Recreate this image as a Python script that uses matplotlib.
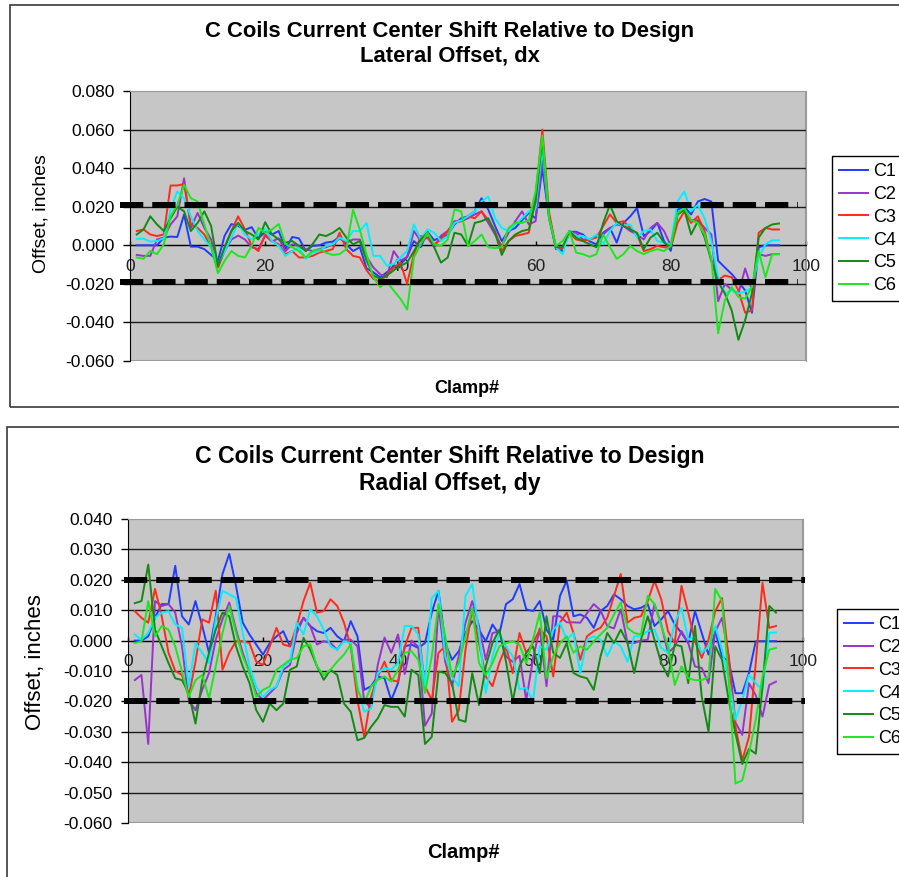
import matplotlib.pyplot as plt
from matplotlib.patches import Rectangle
from matplotlib.lines import Line2D
import numpy as np

plt.rcParams['font.family'] = ['Liberation Sans', 'DejaVu Sans']

clamps = np.arange(1, 97)

# offsets, in thousandths of an inch
dx_c1 = [0, 0, 0, 0, 4, 4.5, 4.3, 16, -0.7, -0.7,
         -2, -5, -8, 5, 11, 10, 8, 9.4, 3.6, 7,
         5.6, 7.4, -2, 4.3, 3.6, -2.9, -0.3, 0, 1.4, 1.9,
         4.3, 0.5, -3, -1, -12, -14, -16.6, -14, -11, -10,
         -6, 2.2, -1, 7, 2.6, 4.3, 5.3, 10.8, 14, 15,
         17.6, 24.4, 18.5, 10, 2.2, 7.4, 9, 13, 16.8, 14,
         40, 14, -1, -3, 7, 7, 5.6, 2, 0.5, 6.5,
         9, 1.4, 11.6, 15, 19.3, 4.8, 7.4, 11.6, 2.2, -2.9,
         18.5, 20, 16, 22.7, 24, 22.7, -8, -11.5, -14.9, -19,
         -23.4, -35, -1, 0, 0, 0]
dx_c2 = [-5, -5.5, -5.5, 3, 4, 10.8, 15, 34.7, 9, 16.8,
         9, 3, -11.5, -3, 3, 5, 3, -1, -2, 5,
         2, 3.6, -3, 0.5, -0.3, -2, -3, -2, -1, 0.5,
         3.6, 1.4, 3, 3, -6, -11.5, -15, -16.6, -3, -8,
         -6, 7.4, 2.2, 4, -1, 5, 7.4, 12.5, 12.5, 14,
         16, 17.6, 11.6, 5.6, -0.3, 6.5, 12.5, 17.6, 10.8, 12.5,
         45, 15, -2, -2, 6.5, 6.5, 3, 3, 5, 5.6,
         9, 10.8, 10, 7.4, 5.6, 3, 9, 11.6, 7.4, -0.3,
         16, 18.5, 13, 13, 9, 5.6, -29, -20, -23, -25,
         -12, -23, -4.6, -5.5, -4.6, -4.6]
dx_c3 = [7.4, 8.2, 5.6, 4.8, 5.6, 31, 31, 31.8, 10.8, 9,
         5.6, -1, -11.5, -1, 7.4, 15, 8.2, -0.3, -3, 5.6,
         2.2, 0.5, -4.6, -3, -6.3, -6.3, -5.5, -3.8, -3, -2,
         6.5, -2, -5.5, -6.3, -13, -17.4, -19, -15, -11.5, -9,
         -20, -4.6, 4.8, 4, 0.5, 3, 7.4, 11.6, 12.5, 15,
         14, 17.6, 13, 7.4, -3, 2.2, 4.8, 5.6, 6.5, 26,
         60, 17, -1, -2, 6.5, 3, 2.2, 3, 4, 10,
         16, 11.6, 12.5, 9, 5.6, -3, -2, -0.3, -1, -1,
         11.6, 17.6, 11.6, 15, 7.4, -8, -18, -15.7, -16.6, -23.4,
         -35, -33.7, 6.5, 9, 8.2, 8.2]
dx_c4 = [3.4, 3.4, 1.9, 2.2, 3.6, 18.5, 27.9, 24.4, 15, 7.4,
         3, -1, -9.7, -3, 4, 11.6, 5.6, 3, 5.6, 8.7,
         2.2, -0.3, -5.5, -3, -1, -7, -3.8, -3, -0.3, 0.5,
         4, 2.2, 7.4, 7.4, 11.6, -5.5, -5.5, -10.6, -9.7, -6.3,
         -3, 10.8, 3, 8.2, 6.5, 2.2, 4.8, 11.6, 13, 15,
         17.6, 22.7, 25.3, 14, 9, 7.4, 10.8, 14, 17.6, 19.3,
         50, 14, -1, -4.6, 7.4, 4.8, 4.8, 3, 5.6, 0.5,
         7.4, 11.6, 10, 10.8, 4, 7.4, 8.2, 2.2, 1.4, 0.5,
         22.7, 27.9, 17.6, 21, 14, 2.2, -16.6, -25, -23.4, -25,
         -24, -21.7, -6.3, 0.5, 2.6, 2.6]
dx_c5 = [5.6, 8.2, 15, 10.8, 7.4, 14, 20, 17.6, 7.4, 11.6,
         17.6, 10, -10.6, -1, 7.4, 11.6, 7.4, 5.6, 3, 12,
         5.6, 3, 1.4, 2.2, -0.3, -3, 0.5, 5.6, 4.8, 6.5,
         9, 4, 0.5, 2.2, -8, -15.7, -17.4, -15.7, -13, -10.6,
         -9, -3, 3, 6.5, -1, -9, -6.3, 6.5, 5.6, -0.3,
         11.6, 12.5, 14, 6.5, -5, 2.2, 5.6, 7.4, 8.2, 22.7,
         55, 14, -1, -1, 7.4, 4, 2.2, 0.5, -1, 11.6,
         21, 12.5, 10, 8.2, 6.5, -2, 4, 6.5, 1.4, -1,
         16, 18.5, 5.6, 12.5, 4, -8, -19, -25, -33.7, -49,
         -38.8, -25, 4, 9, 10.8, 11.3]
dx_c6 = [-6.3, -7, -3, -4.6, 0.5, 15, 21, 31.3, 24.4, 22.7,
         10.8, -1, -14.5, -8, -3, -5.5, -6.3, -0.3, 9, 6.5,
         8.2, 11, 0.5, -1, -3, -6.3, -3, -2, -3.8, -5,
         -4.6, -2, 18.5, 8, -5, -16.6, -21.7, -19, -23.4, -27.7,
         -33.3, -6.3, 0.5, 6.5, 0.5, -0.3, 3, 18.5, 17.6, -0.3,
         2.2, 5.6, -1, -1.5, -1, 9, 11.6, 11.6, 13, 28,
         57, 14, -0.3, 2.2, 7.4, -3.8, -4.6, -6, -4.6, 5.6,
         -1, -7, -4.6, -0.3, -3, -4.6, -3, -2, -3, -0.3,
         16.8, 19.3, 13, 11.6, 5.6, -7, -45.6, -28.5, -21.7, -26.8,
         -27.7, -21.7, -3, -16.6, -4.6, -4.6]

dy_c1 = [0, 0, 1.4, 7.5, 12, 12, 24.6, 8, 5.3, 13,
         4.8, -4, 8, 21.9, 28.5, 18, 5.9, 2, -1.3, -4.6,
         -0.8, 1.4, 3.1, -1.9, 3.6, 7.5, 4.8, 3.1, 2.5, 4.2,
         1.4, -0.2, 6.4, 1.4, -16.2, -15, -11.8, -12.4, -19.6, -14,
         -1.9, -1.3, -2.4, -0.8, 9.2, 16.4, -0.8, -6.3, -3.5, 2.5,
         6.4, 3.6, -0.2, 5.3, 2, 12, 13.6, 18.6, 10.3, 9.7,
         13, 3.6, 0.3, 14.7, 19.7, 8, 8.6, 7.5, 4.2, 9.7,
         11.4, 15.2, 13.6, 11.4, 10.3, 10.8, 12, 4.8, 7, 9.7,
         5.3, 2.5, -0.8, 9.7, 2.5, -4.6, 3.1, -5.2, -6.9, -17.3,
         -17.3, -10.7, -0.2, -0.2, -0.2, -0.2]
dy_c2 = [-13, -11.3, -34, 13, 11.4, 12, 9.2, -1.9, -19.6, -22.9,
         -16.2, -10.7, 0.3, 7, 12.5, 3.6, -4, -10.7, -17.3, -19.6,
         -17.3, -15.1, -9.6, -8, 2.5, 7.5, 4.8, -1.3, -0.2, -0.8,
         -3, 0.3, 0.3, -1.9, -20, -22, -8, 1, -4, 2,
         -11, 0, -2, -28, -24, 11.4, -7, -15, -5, 5.9,
         13, 4.8, -6.3, 2.5, 3, -5.2, -7, -5, -19.6, -6,
         4, -15, 8, 8, 6, 6, 5.9, 9, 12, 10,
         4.8, 4, 10.3, -0.8, -0.8, 0, 0.3, 12, 5.3, -4,
         -2, 3.1, -0.8, -8.5, -9, -14, 3, 7.5, -5, -27,
         -31, -14, -18, -25, -14.6, -13.5]
dy_c3 = [9.7, 7.5, 5.9, 17, 8, -4, -10, -11.3, -18.5, -6.9,
         7, 5.9, 16.4, -9.6, -4, -0.2, -0.2, -0.8, -6.9, -8,
         -1.9, 4.2, -1.3, -1.9, 4.8, 13, 19, 9.2, 9.7, 13.6,
         11.4, 5.9, -1.9, -19.6, -31.7, -18.5, -11.8, -6.9, -13, -13.5,
         -1.9, 4.2, 4.2, -15, -19.6, -4, -1.9, -26.7, -23, -3,
         10.3, -0.8, -11.8, -15, -7.4, -1.9, -10.7, 2.5, -4, -0.8,
         3.6, 1.4, -11.8, 5.9, 9.2, 2.5, -6.3, 1.4, 3.1, 4.2,
         7.5, 14.7, 21.9, 5.9, 7.5, 8, 13, 19.7, 13.6, 3.1,
         -0.8, 18, 9.2, -0.2, -5.7, 0.3, 9.7, 14, -6.3, -28.4,
         -39.4, -31.7, -7.4, 19, 4.2, 4.8]
dy_c4 = [2, 0.3, 2.5, 7.5, 9.2, 9.7, 5.3, 4.2, -15, -0.8,
         -4, -7.4, 7, 16.4, 15.2, 14, 2.5, -8.5, -15.1, -18.5,
         -16.2, -15.1, -8.5, -6.9, 5.9, 2, 10.3, 8, 3.6, -1.9,
         -3, -0.2, -0.8, -15.1, -23.4, -22.3, -10.7, -9, -9.6, -7.4,
         4.8, 4.8, 2, -15, 14, 16.4, -5.2, -11.8, -15, 14.7,
         18.6, 2.5, -17.3, -5.2, 2.5, -1.9, -5.2, -16, -15.5, -20,
         -1.9, -3, 3.6, 5.9, 0.3, 2.5, -10.7, 0.3, 1.4, 0.3,
         -5.2, -0.2, -1.9, -6.9, 1.4, 1.4, 3.1, 3.6, -2.4, -4,
         5.9, 10.8, 0.3, 1.4, -4, -1.9, 4.8, -3, -13, -26,
         -19.6, -11.3, -14, -16.2, 2.5, 2.7]
dy_c5 = [12.3, 13, 25, 3.6, -1.9, -7.4, -12.4, -13, -17.3, -27.3,
         -13, -4, 3.6, 9.2, 8, -1.9, -8.5, -14, -22.9, -26.7,
         -20.7, -22.9, -20.7, -9.6, -8.5, 0.9, -3, -8.5, -12.9, -9.6,
         -11.3, -20.7, -23.4, -32.8, -32, -28.4, -25.6, -21.2, -21.8, -21.8,
         -25, -9.6, -11.3, -34, -31.7, -10.2, -10.7, -14, -26, -26.7,
         -10.7, -21.2, -8.5, -0.8, 3.6, -6.9, -20, -8.5, -4, -1.9,
         -10.7, 8, -4, -5.7, -0.8, -10.7, -11.8, -12.4, -16.2, -5.2,
         2.5, -0.8, 3.6, -0.8, -10.7, 0.3, 8, 0.3, -7.4, -11.8,
         -1.3, -1.9, -14, 4.8, -18.5, -30, -1.9, -6.3, -19.6, -30.6,
         -40.6, -35.6, -37.2, -15.1, 11.4, 9.2]
dy_c6 = [-0.8, -0.2, 13, 1.4, 4.8, 3.6, -1.9, -10.2, -18.5, -13,
         -11.3, -19, -8.5, 2.5, 11.4, 2.5, -5.2, -10.7, -18.5, -16.2,
         -15.1, -9.6, -8, -6.3, -5.7, -1.9, -1.3, -8.5, -11.3, -9.6,
         -6.9, -4.6, -1.3, -16.2, -20.7, -15.1, -12.9, -11.8, -13.5, -9.6,
         -4, -3.5, -6.3, -17.3, -5.2, 12, 1.4, -11.8, -7.4, 1.4,
         10.8, -7.4, -11.3, -7.4, -1.9, -0.8, -0.2, -1.3, -7.4, 0.3,
         9.2, -12.4, -5.2, -0.8, 1.4, -4, -1.9, -3, -0.2, 2,
         4.2, 8.6, 12.5, 4.2, 2.5, 2, 14.7, 12, 4.8, -1.9,
         -14.6, -8.5, -12.4, -13, -13, -12, 17, 13, -13, -47,
         -46, -37, -26, -11.8, -3, -2.4]

names = ['C1', 'C2', 'C3', 'C4', 'C5', 'C6']
colors = ['#1f3cff', '#9933cc', '#ff2a1a', '#00f0ff', '#138a13', '#1ee61e']

# tolerance band drawn across each chart (inches)
dx_limits = [0.021, -0.019]
dy_limits = [0.020, -0.020]

W, H = 899, 877
fig = plt.figure(figsize=(W / 100, H / 100), dpi=100)


def fx(px):
    return px / W


def fy(py):
    return 1 - py / H


def panel(box, series, limits, yticks, band_x, title, title_y, title_size,
          ylab_xy, ylab_size, xlab_xy, xlab_size, legend_xy, frame):
    l, t, r, b = box
    ax = fig.add_axes([fx(l), fy(b), fx(r) - fx(l), fy(t) - fy(b)])
    ax.set_facecolor('#c6c6c6')
    ax.set_xlim(0, 100)
    ax.set_ylim(yticks[0], yticks[-1])

    for v in yticks[1:-1]:
        ax.axhline(v, color='#1a1a1a', lw=1.0, zorder=1)

    for vals, name, col in zip(series, names, colors):
        ax.plot(clamps, np.array(vals) / 1000.0, color=col, lw=1.4,
                label=name, zorder=3)

    for lim in limits:
        ax.plot(band_x, [lim, lim], color='black', lw=4.3, dashes=(3.9, 1.5),
                dash_capstyle='butt', clip_on=False, zorder=5)

    ax.set_yticks(yticks)
    ax.set_yticklabels(['%.3f' % v if abs(v) > 1e-9 else '0.000' for v in yticks])
    ax.set_xticks([0, 20, 40, 60, 80, 100])
    ax.tick_params(axis='y', direction='out', length=5, width=1, pad=6,
                   labelsize=12.5, colors='black')
    ax.tick_params(axis='x', direction='in', length=3, width=1, pad=10,
                   labelsize=12.5, labelcolor='#202020')

    ax.spines['bottom'].set_position(('data', 0))
    ax.spines['bottom'].set_color('black')
    ax.spines['left'].set_color('black')
    ax.spines['top'].set_color('#9a9a9a')
    ax.spines['right'].set_color('#9a9a9a')
    ax.add_patch(Rectangle((0, 0), 1, 1, transform=ax.transAxes, fill=False,
                           ec='#9a9a9a', lw=1.5, zorder=0.5))

    fig.text(fx(450), fy(title_y), title, ha='center', va='center',
             fontsize=title_size, fontweight='bold', linespacing=1.2)
    fig.text(fx(ylab_xy[0]), fy(ylab_xy[1]), 'Offset, inches', rotation=90,
             ha='center', va='center', fontsize=ylab_size)
    fig.text(fx(xlab_xy[0]), fy(xlab_xy[1]), 'Clamp#', ha='center',
             va='center', fontsize=xlab_size, fontweight='bold')

    handles = [Line2D([], [], color=c, lw=1.4) for c in colors]
    ax.legend(handles, names, loc='upper left',
              bbox_to_anchor=(fx(legend_xy[0]), fy(legend_xy[1])),
              bbox_transform=fig.transFigure, fontsize=13, frameon=True,
              fancybox=False, edgecolor='black', framealpha=1,
              borderaxespad=0, borderpad=0.4, handlelength=1.6,
              handletextpad=0.3, labelspacing=0.32)

    fl, ft, fr, fb = frame
    fig.add_artist(Rectangle((fx(fl), fy(fb)), fx(fr) - fx(fl), fy(ft) - fy(fb),
                             transform=fig.transFigure, fill=False,
                             ec='#3a3a3a', lw=1.2, clip_on=False))
    return ax


panel((130, 91, 806, 361), [dx_c1, dx_c2, dx_c3, dx_c4, dx_c5, dx_c6],
      dx_limits, [-0.06, -0.04, -0.02, 0.0, 0.02, 0.04, 0.06, 0.08],
      [-1.5, 98.8],
      'C Coils Current Center Shift Relative to Design\nLateral Offset, dx',
      44, 15.8, (41, 214), 14, (467, 388), 13, (832, 156), (10, 5, 910, 407))

panel((128, 519, 803, 823), [dy_c1, dy_c2, dy_c3, dy_c4, dy_c5, dy_c6],
      dy_limits, [-0.06, -0.05, -0.04, -0.03, -0.02, -0.01, 0.0, 0.01,
                  0.02, 0.03, 0.04],
      [-0.6, 100.3],
      'C Coils Current Center Shift Relative to Design\nRadial Offset, dy',
      470, 16.6, (36, 662), 16, (463, 853), 14.5, (837, 609), (7, 427, 910, 890))

fig.savefig('out.png', dpi=100)
